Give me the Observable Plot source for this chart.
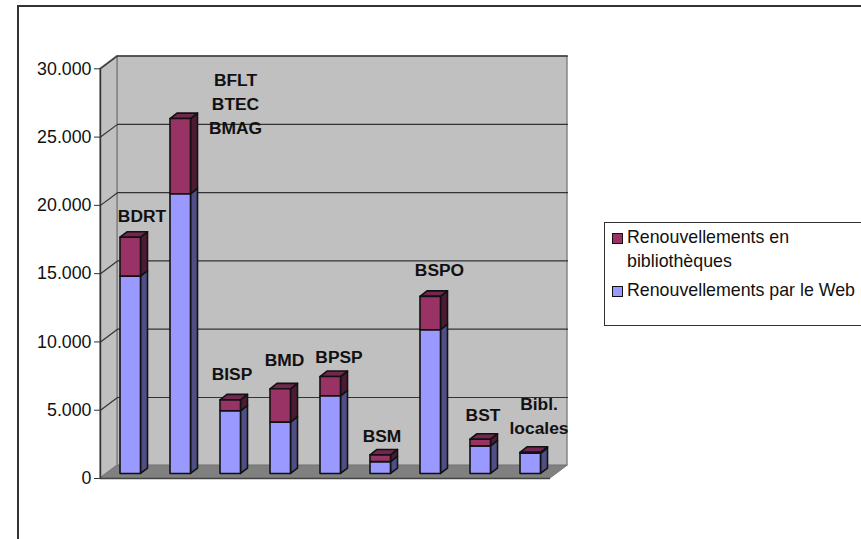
<!DOCTYPE html>
<html>
<head>
<meta charset="utf-8">
<script src="https://cdn.jsdelivr.net/npm/d3@7"></script>
<script src="https://cdn.jsdelivr.net/npm/@observablehq/plot@0.6"></script>
<style>
html,body{margin:0;padding:0;background:#fff;overflow:hidden}
#page{position:relative;width:861px;height:539px;overflow:hidden}
#page svg{position:absolute;left:0;top:0}
#frame{position:absolute;left:17px;top:5px;width:900px;height:600px;border:2px solid #333;box-sizing:border-box}
#legend{position:absolute;left:604px;top:222px;width:300px;height:103.5px;border:1px solid #333;box-sizing:border-box;background:#fff;font:17.8px/23.5px "Liberation Sans",Arial,sans-serif;color:#111}
#legend .sw{position:absolute;left:6.5px;width:9px;height:9px;border:1.2px solid #111}
#legend .t{position:absolute;left:22px;white-space:nowrap}
</style>
</head>
<body>
<div id="page"><div id="frame"></div><div id="chart"></div>
<div id="legend">
<span class="sw" style="top:10px;background:#993366"></span><span class="t" style="top:3px">Renouvellements en<br>bibliothèques</span>
<span class="sw" style="top:62.5px;background:#9999ff"></span><span class="t" style="top:55.5px">Renouvellements par le Web</span>
</div></div>
<script>
const categories = ["BDRT","BFLT BTEC BMAG","BISP","BMD","BPSP","BSM","BSPO","BST","Bibl. locales"];
const webValues = [14450,20480,4590,3760,5690,870,10530,2020,1480];
const libraryValues = [2850,5510,800,2440,1410,490,2440,490,75];
const tickValues = [0,5000,10000,15000,20000,25000,30000];
const labelTexts = ["BDRT","BFLT\nBTEC\nBMAG","BISP","BMD","BPSP","BSM","BSPO","BST","Bibl.\nlocales"];
const labelX = [0.83,2.70,2.63,3.68,4.77,5.63,6.78,7.65,8.77];
const labelY = [19360,27510,7740,8790,8990,3260,15360,4740,4700];

// 3D projection, in scale units
const wallDX = 0.34, wallDY = 931;
const barStart = 0.40, barBase = 330, barW = 0.41, barDX = 0.14, barDY = 400;

const bars = categories.map((c,i)=>{
  const x1 = i + barStart, x2 = x1 + barW;
  return {c, x1, x2, base:barBase, mid:barBase+webValues[i], top:barBase+webValues[i]+libraryValues[i]};
});
const side = (lo,hi)=>bars.flatMap((b,i)=>[
  {id:i,x:b.x2,y1:b[lo],y2:b[hi]},
  {id:i,x:b.x2+barDX,y1:b[lo]+barDY,y2:b[hi]+barDY}]);
const topFace = bars.flatMap((b,i)=>[
  {id:i,y:b.top,x1:b.x1,x2:b.x2},
  {id:i,y:b.top+barDY,x1:b.x1+barDX,x2:b.x2+barDX}]);
const n = categories.length;
const grid = tickValues.slice(1).flatMap(v=>[
  {id:v,x:0,y:v},{id:v,x:wallDX,y:v+wallDY},{id:v,x:n+wallDX,y:v+wallDY}]);
const barStroke = {stroke:"#111",strokeWidth:1.6,strokeLinejoin:"round"};
const font = "'Liberation Sans',Arial,sans-serif";

const plot = Plot.plot({
  width:861,height:539,
  marginLeft:100,marginRight:311,marginTop:68.3,marginBottom:61,
  x:{domain:[0,n],axis:null},
  y:{domain:[0,30000],axis:null},
  style:{background:"transparent",fontFamily:font,color:"#111"},
  marks:[
    // walls
    Plot.areaY([{x:wallDX,y1:wallDY,y2:30000+wallDY},{x:n+wallDX,y1:wallDY,y2:30000+wallDY}],
      {x:"x",y1:"y1",y2:"y2",fill:"#c0c0c0",stroke:"#808080",strokeWidth:1.4}),
    Plot.areaY([{x:0,y1:0,y2:30000},{x:wallDX,y1:wallDY,y2:30000+wallDY}],
      {x:"x",y1:"y1",y2:"y2",fill:"#c0c0c0",stroke:"#808080",strokeWidth:1.4}),
    Plot.areaX([{y:0,x1:0,x2:n},{y:wallDY,x1:wallDX,x2:n+wallDX}],
      {y:"y",x1:"x1",x2:"x2",fill:"#808080",stroke:"#777",strokeWidth:1}),
    Plot.line(grid,{x:"x",y:"y",z:"id",stroke:"#333",strokeWidth:1.2}),
    Plot.ruleY([0],{x1:0,x2:n,stroke:"#444",strokeWidth:1.4}),
    Plot.ruleX([0],{y1:0,y2:30000,stroke:"#333",strokeWidth:1.4}),
    Plot.axisY({ticks:tickValues,tickSize:6,tickPadding:3,fontSize:17.8,stroke:"#333",
      tickFormat:d=>d3.format(",")(d).replace(/,/g,"."),label:null}),
    // bars
    Plot.areaY(side("base","mid"),{x:"x",y1:"y1",y2:"y2",z:"id",fill:"#4f4f85",...barStroke}),
    Plot.areaY(side("mid","top"),{x:"x",y1:"y1",y2:"y2",z:"id",fill:"#4d1a33",...barStroke}),
    Plot.areaX(topFace,{y:"y",x1:"x1",x2:"x2",z:"id",fill:"#732650",...barStroke}),
    Plot.rect(bars,{x1:"x1",x2:"x2",y1:"base",y2:"mid",fill:"#9999ff",...barStroke}),
    Plot.rect(bars,{x1:"x1",x2:"x2",y1:"mid",y2:"top",fill:"#993366",...barStroke}),
    // labels
    Plot.text(labelTexts,{x:(d,i)=>labelX[i],y:(d,i)=>labelY[i],text:d=>d,fontSize:17.4,fontWeight:"bold",
      lineHeight:1.38,fill:"#111",textAnchor:"middle"})
  ]
});
document.getElementById("chart").appendChild(plot);
</script>
</body>
</html>
